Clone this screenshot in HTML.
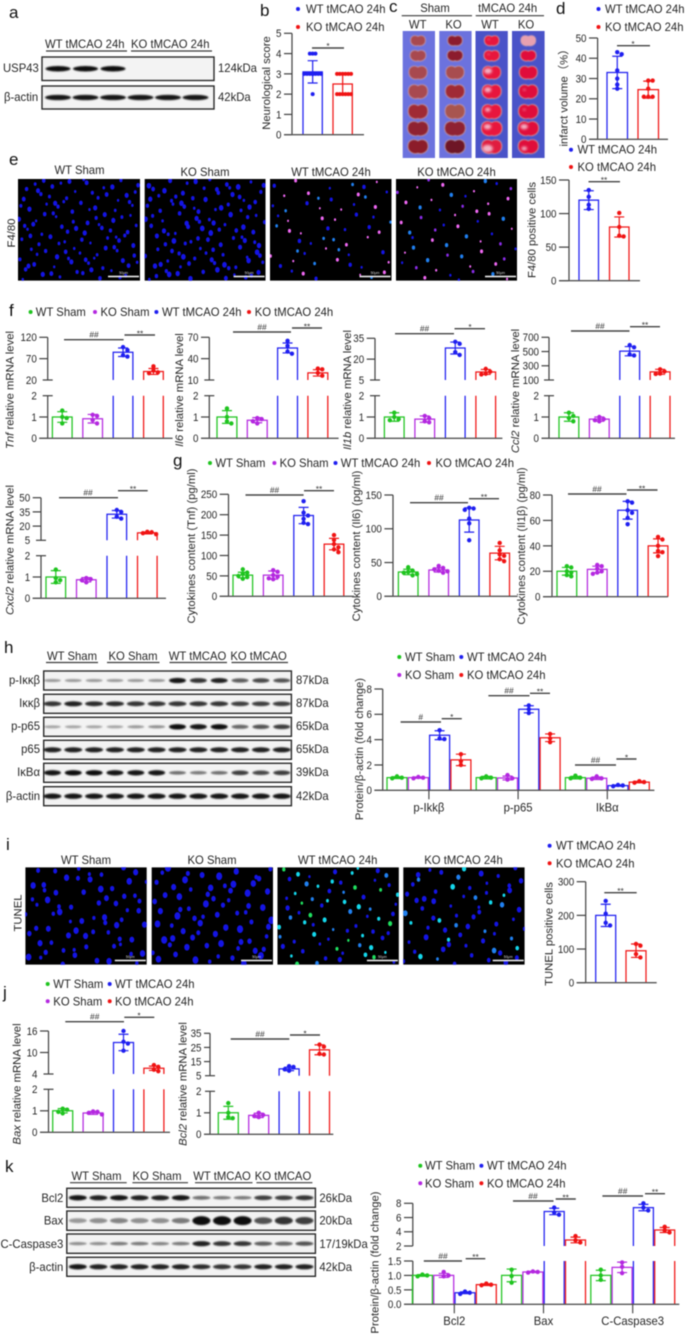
<!DOCTYPE html>
<html lang="en">
<head>
<meta charset="utf-8">
<title>USP43 knockout multi-panel figure</title>
<style>
html,body{margin:0;padding:0;background:#fff;}
#figure{display:block;width:685px;height:1335px;filter:blur(0.42px);}
text{font-family:"Liberation Sans","Noto Sans CJK SC",sans-serif;fill:#262626;font-size:11.3px;}
.c{text-anchor:middle;}
.r{text-anchor:end;}
.p{font-size:17px;fill:#111;}
.s{font-size:8.4px;text-anchor:middle;fill:#333;}
.h{stroke:#444;stroke-width:1.4;}
.k{stroke:#3a3a3a;stroke-width:1.2;}
.i{font-style:italic;}
</style>
</head>
<body>
<svg id="figure" xmlns="http://www.w3.org/2000/svg" width="685" height="1335" viewBox="0 0 685 1335">
<defs>
<filter id="bandBlur" x="-30%" y="-120%" width="160%" height="340%"><feGaussianBlur stdDeviation="0.9"/></filter>
<filter id="softBlur" x="-30%" y="-30%" width="160%" height="160%"><feGaussianBlur stdDeviation="0.6"/></filter>
<filter id="paleBlur" x="-60%" y="-60%" width="220%" height="220%"><feGaussianBlur stdDeviation="1.2"/></filter>
</defs>
<rect x="0" y="0" width="685" height="1335" fill="#ffffff"/>

<!-- panel letters -->
<text class="p" x="9" y="18">a</text>
<text class="p" x="260" y="16">b</text>
<text class="p" x="389" y="12">c</text>
<text class="p" x="556" y="14">d</text>
<text class="p" x="9" y="165">e</text>
<text class="p" x="9" y="316">f</text>
<text class="p" x="173" y="466">g</text>
<text class="p" x="4" y="653">h</text>
<text class="p" x="6" y="850">i</text>
<text class="p" x="3" y="998">j</text>
<text class="p" x="5" y="1172">k</text>

<!-- panel a labels -->
<g>
<text x="45" y="48">WT tMCAO 24h</text>
<line class="k" x1="46" y1="51" x2="127" y2="51"/>
<text x="131" y="48">KO tMCAO 24h</text>
<line class="k" x1="131" y1="51" x2="212" y2="51"/>
<text x="3" y="72">USP43</text>
<text x="4" y="101">β-actin</text>
<text x="218" y="72">124kDa</text>
<text x="218" y="101">42kDa</text>
</g>

<!-- legends top -->
<g>
<circle cx="298" cy="9" r="2" fill="#1f1ff0"/>
<text x="306" y="13">WT tMCAO 24h</text>
<circle cx="298" cy="27" r="2" fill="#f01414"/>
<text x="306" y="31">KO tMCAO 24h</text>
</g>
<text class="c" transform="translate(270,83) rotate(-90)">Neurological score</text>
<g><line class="h" x1="312" y1="48" x2="344" y2="48"/><text class="s" x="328" y="49">*</text></g>

<!-- panel c labels -->
<g>
<text class="c" x="435" y="12">Sham</text>
<text class="c" x="507.7" y="12">tMCAO 24h</text>
<line class="k" x1="401.7" y1="15.7" x2="472" y2="15.7"/>
<line class="k" x1="475.7" y1="15.7" x2="544" y2="15.7"/>
<text class="c" x="417.7" y="28.5">WT</text>
<text class="c" x="453.5" y="28.5">KO</text>
<text class="c" x="490" y="28.5">WT</text>
<text class="c" x="526" y="28.5">KO</text>
</g>

<g>
<circle cx="598.5" cy="9" r="2" fill="#1f1ff0"/>
<text x="605" y="13">WT tMCAO 24h</text>
<circle cx="598.5" cy="27" r="2" fill="#f01414"/>
<text x="605" y="31">KO tMCAO 24h</text>
</g>
<text class="c" transform="translate(567.5,95) rotate(-90)">infarct volume（%）</text>
<g><line class="h" x1="617" y1="45.7" x2="650" y2="45.7"/><text class="s" x="633" y="47">*</text></g>

<!-- panel e labels -->
<g>
<text class="c" x="79.5" y="174">WT Sham</text>
<text class="c" x="205" y="176">KO Sham</text>
<text class="c" x="331" y="176">WT tMCAO 24h</text>
<text class="c" x="456.5" y="176">KO tMCAO 24h</text>
<text class="c" transform="translate(15,233) rotate(-90)">F4/80</text>
</g>
<g>
<circle cx="571" cy="149.7" r="2" fill="#1f1ff0"/>
<text x="577.5" y="153.7">WT tMCAO 24h</text>
<circle cx="571" cy="167" r="2" fill="#f01414"/>
<text x="577.5" y="171">KO tMCAO 24h</text>
</g>
<text class="c" transform="translate(535.7,230) rotate(-90)">F4/80 positive cells</text>
<g><line class="h" x1="588.5" y1="181.7" x2="620" y2="181.7"/><text class="s" x="604" y="183">**</text></g>

<!-- panel f -->
<g>
<circle cx="30.6" cy="312" r="2" fill="#1fc41f"/>
<text x="35.8" y="316">WT Sham</text>
<circle cx="95" cy="312" r="2" fill="#b428e0"/>
<text x="100.5" y="316">KO Sham</text>
<circle cx="156.4" cy="312" r="2" fill="#1f1ff0"/>
<text x="162" y="316">WT tMCAO 24h</text>
<circle cx="249" cy="312" r="2" fill="#f01414"/>
<text x="254.7" y="316">KO tMCAO 24h</text>
</g>
<text class="c" transform="translate(13.3,390) rotate(-90)"><tspan class="i">Tnf</tspan> relative mRNA level</text>
<text class="c" transform="translate(183,390) rotate(-90)"><tspan class="i">Il6</tspan> relative mRNA level</text>
<text class="c" transform="translate(351,390) rotate(-90)"><tspan class="i">Il1b</tspan> relative mRNA level</text>
<text class="c" transform="translate(519,391) rotate(-90)"><tspan class="i">Ccl2</tspan> relative mRNA level</text>
<text class="c" transform="translate(13.6,550) rotate(-90)"><tspan class="i">Cxcl2</tspan> relative mRNA level</text>

<g><line class="h" x1="64" y1="339.7" x2="123.6" y2="339.7"/><text class="s" x="94" y="337.5">##</text><line class="h" x1="124.5" y1="335" x2="155" y2="335"/><text class="s" x="140" y="336.5">**</text></g>
<g><line class="h" x1="233" y1="332" x2="291" y2="332"/><text class="s" x="262" y="330">##</text><line class="h" x1="292" y1="328" x2="322" y2="328"/><text class="s" x="307" y="329.5">**</text></g>
<g><line class="h" x1="395" y1="333.7" x2="454" y2="333.7"/><text class="s" x="424.5" y="331.5">##</text><line class="h" x1="454.5" y1="328.7" x2="485" y2="328.7"/><text class="s" x="470" y="330">*</text></g>
<g><line class="h" x1="571" y1="331" x2="629.5" y2="331"/><text class="s" x="600" y="329">##</text><line class="h" x1="630" y1="326.7" x2="660" y2="326.7"/><text class="s" x="645" y="328">**</text></g>
<g><line class="h" x1="59" y1="497.7" x2="118" y2="497.7"/><text class="s" x="88" y="495.5">##</text><line class="h" x1="118" y1="490.7" x2="147.7" y2="490.7"/><text class="s" x="133" y="492">**</text></g>

<!-- panel g -->
<g>
<circle cx="210" cy="463" r="2" fill="#1fc41f"/>
<text x="215.4" y="467">WT Sham</text>
<circle cx="274.4" cy="463" r="2" fill="#b428e0"/>
<text x="279.6" y="467">KO Sham</text>
<circle cx="335.5" cy="463" r="2" fill="#1f1ff0"/>
<text x="340.8" y="467">WT tMCAO 24h</text>
<circle cx="429" cy="463" r="2" fill="#f01414"/>
<text x="435.5" y="467">KO tMCAO 24h</text>
</g>
<text class="c" transform="translate(195,546) rotate(-90)">Cytokines content (Tnf) (pg/ml)</text>
<text class="c" transform="translate(360,546) rotate(-90)">Cytokines content (Il6) (pg/ml)</text>
<text class="c" transform="translate(524.8,546) rotate(-90)">Cytokines content (Il1β) (pg/ml)</text>
<g><line class="h" x1="245.5" y1="495" x2="303.6" y2="495"/><text class="s" x="274.5" y="493">##</text><line class="h" x1="304" y1="490.7" x2="334" y2="490.7"/><text class="s" x="319" y="492">**</text></g>
<g><line class="h" x1="410" y1="502.7" x2="468" y2="502.7"/><text class="s" x="439" y="500.5">##</text><line class="h" x1="469" y1="498.7" x2="499" y2="498.7"/><text class="s" x="484" y="500">**</text></g>
<g><line class="h" x1="568" y1="494" x2="626.5" y2="494"/><text class="s" x="597" y="492">##</text><line class="h" x1="627" y1="490" x2="657.5" y2="490"/><text class="s" x="642" y="491.5">**</text></g>

<!-- panel h labels -->
<g>
<text class="c" x="72" y="660">WT Sham</text>
<text class="c" x="133" y="660">KO Sham</text>
<text class="c" x="197.5" y="660">WT tMCAO</text>
<text class="c" x="258.6" y="660">KO tMCAO</text>
<line class="k" x1="46" y1="662.5" x2="98" y2="662.5"/>
<line class="k" x1="107" y1="662.5" x2="159.5" y2="662.5"/>
<line class="k" x1="169.5" y1="662.5" x2="227" y2="662.5"/>
<line class="k" x1="231.5" y1="662.5" x2="288" y2="662.5"/>
<text class="r" x="40" y="684">p-Iκκβ</text>
<text class="r" x="40" y="707">Iκκβ</text>
<text class="r" x="40" y="730">p-p65</text>
<text class="r" x="40" y="753">p65</text>
<text class="r" x="40" y="776">IκBα</text>
<text class="r" x="40" y="800">β-actin</text>
<text x="296" y="684">87kDa</text>
<text x="296" y="707">87kDa</text>
<text x="296" y="730">65kDa</text>
<text x="296" y="753">65kDa</text>
<text x="296" y="776">39kDa</text>
<text x="296" y="800">42kDa</text>
</g>
<g>
<circle cx="399.3" cy="657" r="2" fill="#1fc41f"/>
<text x="405" y="661">WT Sham</text>
<circle cx="461.3" cy="657" r="2" fill="#1f1ff0"/>
<text x="467" y="661">WT tMCAO 24h</text>
<circle cx="399.3" cy="675" r="2" fill="#b428e0"/>
<text x="405" y="679">KO Sham</text>
<circle cx="461.3" cy="675" r="2" fill="#f01414"/>
<text x="467" y="679">KO tMCAO 24h</text>
</g>
<text class="c" transform="translate(363,749) rotate(-90)">Protein/β-actin (fold change)</text>
<g>
<line class="h" x1="400.6" y1="722" x2="441" y2="722"/><text class="s" x="420.7" y="720">#</text>
<line class="h" x1="441.7" y1="718.7" x2="461.8" y2="718.7"/><text class="s" x="451.7" y="720">*</text>
<line class="h" x1="488.4" y1="695.7" x2="529.5" y2="695.7"/><text class="s" x="509" y="693.5">##</text>
<line class="h" x1="530" y1="693.3" x2="550" y2="693.3"/><text class="s" x="540" y="694.5">**</text>
<line class="h" x1="575" y1="765" x2="616" y2="765"/><text class="s" x="595.5" y="763">##</text>
<line class="h" x1="616.4" y1="759" x2="636.5" y2="759"/><text class="s" x="626.5" y="760.5">*</text>
</g>

<!-- panel i labels -->
<g>
<text class="c" x="86" y="864">WT Sham</text>
<text class="c" x="212" y="864">KO Sham</text>
<text class="c" x="337.7" y="864">WT tMCAO 24h</text>
<text class="c" x="463.5" y="864">KO tMCAO 24h</text>
<text class="c" transform="translate(21.5,913) rotate(-90)">TUNEL</text>
</g>
<g>
<circle cx="549.6" cy="845.7" r="2" fill="#1f1ff0"/>
<text x="556" y="849.7">WT tMCAO 24h</text>
<circle cx="549.6" cy="863.3" r="2" fill="#f01414"/>
<text x="556" y="867.3">KO tMCAO 24h</text>
</g>
<text class="c" transform="translate(552.3,934) rotate(-90)">TUNEL positive cells</text>
<g><line class="h" x1="604.3" y1="892.7" x2="636.7" y2="892.7"/><text class="s" x="620.5" y="894">**</text></g>

<!-- panel j -->
<g>
<circle cx="47.7" cy="984" r="2" fill="#1fc41f"/>
<text x="53.3" y="988">WT Sham</text>
<circle cx="109.7" cy="984" r="2" fill="#1f1ff0"/>
<text x="115" y="988">WT tMCAO 24h</text>
<circle cx="47.7" cy="1001.3" r="2" fill="#b428e0"/>
<text x="53.3" y="1005.3">KO Sham</text>
<circle cx="109.7" cy="1001.3" r="2" fill="#f01414"/>
<text x="115" y="1005.3">KO tMCAO 24h</text>
</g>
<text class="c" transform="translate(20.7,1084) rotate(-90)"><tspan class="i">Bax</tspan> relative mRNA level</text>
<text class="c" transform="translate(186.3,1084) rotate(-90)"><tspan class="i">Bcl2</tspan> relative mRNA level</text>
<g><line class="h" x1="65.3" y1="1021.7" x2="124" y2="1021.7"/><text class="s" x="94.7" y="1019.5">##</text><line class="h" x1="124.3" y1="1017.3" x2="154.3" y2="1017.3"/><text class="s" x="139" y="1018.5">*</text></g>
<g><line class="h" x1="230.7" y1="1039" x2="289.3" y2="1039"/><text class="s" x="260" y="1037">##</text><line class="h" x1="290" y1="1035" x2="320" y2="1035"/><text class="s" x="305" y="1036.5">*</text></g>

<!-- panel k labels -->
<g>
<text class="c" x="96.5" y="1180">WT Sham</text>
<text class="c" x="157" y="1180">KO Sham</text>
<text class="c" x="222" y="1180">WT tMCAO</text>
<text class="c" x="283" y="1180">KO tMCAO</text>
<line class="k" x1="70" y1="1182.7" x2="126.7" y2="1182.7"/>
<line class="k" x1="132.4" y1="1182.7" x2="188" y2="1182.7"/>
<line class="k" x1="195" y1="1182.7" x2="252.5" y2="1182.7"/>
<line class="k" x1="256.4" y1="1182.7" x2="312.4" y2="1182.7"/>
<text class="r" x="63.3" y="1202">Bcl2</text>
<text class="r" x="63.3" y="1224.5">Bax</text>
<text class="r" x="63.3" y="1248">C-Caspase3</text>
<text class="r" x="63.3" y="1271">β-actin</text>
<text x="319.4" y="1202">26kDa</text>
<text x="319.4" y="1224.5">20kDa</text>
<text x="319.4" y="1248">17/19kDa</text>
<text x="319.4" y="1271">42kDa</text>
</g>
<g>
<circle cx="420.3" cy="1165.7" r="2" fill="#1fc41f"/>
<text x="425" y="1169.7">WT Sham</text>
<circle cx="481.4" cy="1165.7" r="2" fill="#1f1ff0"/>
<text x="487" y="1169.7">WT tMCAO 24h</text>
<circle cx="420.3" cy="1183.3" r="2" fill="#b428e0"/>
<text x="425" y="1187.3">KO Sham</text>
<circle cx="481.4" cy="1183.3" r="2" fill="#f01414"/>
<text x="487" y="1187.3">KO tMCAO 24h</text>
</g>
<text class="c" transform="translate(378.4,1262.5) rotate(-90)">Protein/β-actin (fold change)</text>
<g>
<line class="h" x1="423.8" y1="1261" x2="462" y2="1261"/><text class="s" x="443" y="1259">##</text>
<line class="h" x1="465.7" y1="1258.7" x2="485.3" y2="1258.7"/><text class="s" x="475.5" y="1260">**</text>
<line class="h" x1="513" y1="1201" x2="553.5" y2="1201"/><text class="s" x="533" y="1199">##</text>
<line class="h" x1="555.7" y1="1199" x2="575.8" y2="1199"/><text class="s" x="565.7" y="1200.5">**</text>
<line class="h" x1="602.4" y1="1196" x2="643" y2="1196"/><text class="s" x="622.7" y="1194">##</text>
<line class="h" x1="645" y1="1193.7" x2="665" y2="1193.7"/><text class="s" x="655" y="1195">**</text>
</g>
<g id="marks"></g>
</svg>

<script>
/* ---------- chart data ---------- */
const fourColors = ['#1fc41f', '#b428e0', '#1f1ff0', '#f01414'];
const twoColors = ['#1f1ff0', '#f01414'];

const neuroMeans = [3.1, 2.5];
const neuroSds = [0.55, 0.5];
const neuroPoints = [[4, 4, 4, 3, 3, 3, 3, 3, 3, 3, 3, 3, 3, 2], [3, 3, 3, 3, 3, 3, 2, 2, 2, 2, 2, 2]];
const neuroTicks = ['0', '1', '2', '3', '4', '5'];

const infarctMeans = [33, 24.5];
const infarctSds = [8, 4.2];
const infarctPoints = [[43, 42, 34, 30, 27, 25], [29, 29, 25, 21, 21, 21]];
const infarctTicks = ['0', '10', '20', '30', '40', '50'];

const f480Means = [120, 80];
const f480Sds = [14, 15];
const f480Points = [[135, 125, 113, 107], [101, 80, 67, 66]];
const f480Ticks = ['0', '50', '100', '150'];

const tnfMeans = [1, 0.92, 85, 40];
const tnfSds = [0.25, 0.2, 10, 7];
const tnfPoints = [[1.3, 1.0, 0.95, 0.7], [1.1, 1.05, 0.85, 0.7], [97, 90, 78, 75], [52, 42, 38, 36]];
const tnfUpperTicks = ['20', '70', '120'];
const tnfLowerTicks = ['0', '1', '2'];

const il6Means = [1, 0.85, 55, 20];
const il6Sds = [0.3, 0.12, 7, 4.5];
const il6Points = [[1.4, 1.0, 0.8, 0.7], [0.95, 0.9, 0.8, 0.7], [65, 58, 50, 47], [26, 25, 20, 16]];
const il6UpperTicks = ['10', '40', '70'];
const il6LowerTicks = ['0', '1', '2'];

const il1bMeans = [1, 0.9, 28, 10.8];
const il1bSds = [0.2, 0.15, 4.3, 1.8];
const il1bPoints = [[1.2, 1.0, 0.9, 0.85], [1.05, 0.95, 0.8, 0.75], [32.5, 31, 25, 23], [13, 11, 9.5, 9]];
const il1bUpperTicks = ['5', '20', '35'];
const il1bLowerTicks = ['0', '1', '2'];

const ccl2Means = [1, 0.9, 505, 215];
const ccl2Sds = [0.2, 0.1, 65, 35];
const ccl2Points = [[1.2, 1.05, 0.95, 0.8], [1.0, 0.9, 0.85, 0.8], [590, 560, 460, 445], [250, 220, 190, 185]];
const ccl2UpperTicks = ['100', '300', '500', '700'];
const ccl2LowerTicks = ['0', '1', '2'];

const cxcl2Means = [1, 0.87, 32.5, 12.8];
const cxcl2Sds = [0.3, 0.1, 4, 1];
const cxcl2Points = [[1.35, 0.95, 0.85, 0.75], [0.95, 0.9, 0.85, 0.75], [37, 35, 30, 28], [14, 13.5, 12.5, 11.5]];
const cxcl2UpperTicks = ['5', '20', '35', '50'];
const cxcl2LowerTicks = ['0', '1', '2'];

const cytoTnfMeans = [52, 52, 198, 128];
const cytoTnfSds = [7, 10, 20, 14];
const cytoTnfPoints = [[66, 58, 55, 50, 47, 43], [64, 60, 52, 48, 44, 42], [233, 205, 198, 190, 180, 177], [150, 138, 128, 120, 115, 108]];
const cytoTnfTicks = ['0', '50', '100', '150', '200', '250'];

const cytoIl6Means = [36, 39, 113, 64];
const cytoIl6Sds = [4, 3, 18, 10];
const cytoIl6Points = [[43, 38, 36, 35, 33, 31], [45, 42, 40, 38, 37, 35], [131, 130, 128, 115, 108, 83], [79, 68, 62, 60, 55, 52]];
const cytoIl6Ticks = ['0', '50', '100', '150'];

const cytoIl1bMeans = [20, 21.5, 68, 40];
const cytoIl1bSds = [3, 2.5, 7, 5.5];
const cytoIl1bPoints = [[24, 23, 20, 19, 17, 16], [25, 24, 22, 20, 19, 18], [75, 74, 68, 66, 62, 57], [47, 45, 40, 36, 35, 32]];
const cytoIl1bTicks = ['0', '20', '40', '60', '80'];

const hCategories = ['p-Ikkβ', 'p-p65', 'IkBα'];
const hMeans = [1, 1, 4.35, 2.4, 1, 0.97, 6.4, 4.15, 1, 0.95, 0.37, 0.65];
const hSds = [0.07, 0.05, 0.35, 0.45, 0.1, 0.15, 0.28, 0.3, 0.1, 0.1, 0.05, 0.06];
const hPoints = [[1.1, 1, 0.95], [1.05, 1, 0.95], [4.75, 4.1, 4.05], [2.85, 2.3, 2.0], [1.1, 1, 0.95], [1.2, 0.95, 0.85], [6.7, 6.4, 6.1], [4.45, 4.1, 3.8], [1.15, 1, 0.95], [1.1, 0.95, 0.9], [0.42, 0.38, 0.32], [0.72, 0.65, 0.6]];
const hTicks = ['0', '2', '4', '6', '8'];

const tunelMeans = [200, 95];
const tunelSds = [33, 20];
const tunelPoints = [[243, 205, 178, 170], [115, 110, 85, 75]];
const tunelTicks = ['0', '100', '200', '300'];

const baxMeans = [1, 0.9, 12.8, 5.6];
const baxSds = [0.1, 0.07, 2.3, 0.6];
const baxPoints = [[1.1, 1.05, 0.95, 0.88], [0.97, 0.95, 0.9, 0.83], [16, 13, 12.5, 10.5], [6.5, 6, 5.2, 4.8]];
const baxUpperTicks = ['4', '10', '16'];
const baxLowerTicks = ['0', '1', '2'];

const bcl2Means = [1, 0.88, 9.8, 23.3];
const bcl2Sds = [0.3, 0.1, 1.2, 3.5];
const bcl2Points = [[1.45, 1.0, 0.8, 0.75], [1.0, 0.9, 0.85, 0.8], [11.7, 11.2, 9.5, 8.5], [27, 25.5, 20.5, 20]];
const bcl2UpperTicks = ['5', '15', '25', '35'];
const bcl2LowerTicks = ['0', '1', '2'];

const kCategories = ['Bcl2', 'Bax', 'C-Caspase3'];
const kMeans = [1, 1, 0.4, 0.68, 1, 1.12, 6.85, 2.85, 1, 1.28, 7.4, 4.25];
const kSds = [0.03, 0.07, 0.03, 0.03, 0.22, 0.02, 0.45, 0.4, 0.18, 0.18, 0.45, 0.35];
const kPoints = [[1.03, 1, 0.97], [1.12, 1, 0.97], [0.44, 0.4, 0.36], [0.72, 0.68, 0.66], [1.2, 0.98, 0.75], [1.14, 1.12, 1.1], [7.4, 6.7, 6.4], [3.4, 2.8, 2.5], [1.2, 1, 0.85], [1.45, 1.3, 1.08], [8, 7.4, 7], [4.7, 4.2, 3.9]];
const kUpperTicks = ['2', '4', '6', '8'];
const kLowerTicks = ['0.0', '0.5', '1.0', '1.5'];

/* blot band intensities, one value per lane */
const blotAUsp43 = [0.95, 0.95, 0.95, 0, 0, 0];
const blotAActin = [0.9, 0.9, 0.9, 0.9, 0.9, 0.9];
const blotHPIkkb = [0.2, 0.2, 0.2, 0.2, 0.2, 0.22, 0.9, 0.75, 0.85, 0.55, 0.65, 0.6];
const blotHIkkb = [0.75, 0.85, 0.8, 0.8, 0.75, 0.75, 0.75, 0.75, 0.75, 0.7, 0.7, 0.7];
const blotHPp65 = [0.15, 0.15, 0.15, 0.15, 0.2, 0.25, 0.95, 0.9, 0.95, 0.5, 0.6, 0.7];
const blotHP65 = [0.85, 0.85, 0.85, 0.85, 0.85, 0.85, 0.85, 0.85, 0.85, 0.85, 0.85, 0.85];
const blotHIkba = [0.9, 0.95, 0.95, 0.9, 0.9, 0.9, 0.4, 0.35, 0.4, 0.7, 0.65, 0.7];
const blotHActin = [0.9, 0.9, 0.9, 0.9, 0.9, 0.9, 0.9, 0.9, 0.9, 0.9, 0.9, 0.9];
const blotKBcl2 = [0.9, 0.85, 0.9, 0.85, 0.85, 0.9, 0.45, 0.35, 0.35, 0.7, 0.7, 0.75];
const blotKBax = [0.2, 0.25, 0.3, 0.25, 0.25, 0.35, 1, 1, 1, 0.6, 0.75, 0.7];
const blotKCasp = [0.25, 0.25, 0.35, 0.35, 0.3, 0.35, 0.85, 0.75, 0.75, 0.55, 0.5, 0.6];
const blotKActin = [0.9, 0.85, 0.85, 0.85, 0.85, 0.85, 0.8, 0.75, 0.75, 0.85, 0.85, 0.85];

/* ---------- drawing helpers ---------- */
const SVGNS = 'http://www.w3.org/2000/svg';
const marks = document.getElementById('marks');
function mk(tag, attrs, parent) {
  const el = document.createElementNS(SVGNS, tag);
  for (const key in attrs) el.setAttribute(key, attrs[key]);
  parent.appendChild(el);
  return el;
}
function makeYScale(seg) {
  return v => seg.bottom + (v - seg.min) / (seg.max - seg.min) * (seg.top - seg.bottom);
}

function drawBarChart(c) {
  const g = mk('g', {}, marks);
  
  
  const lowerY = makeYScale(c.lower);
  const upperY = c.upper ? makeYScale(c.upper) : null;
  const y = v => (upperY && v > c.lower.max) ? upperY(v) : lowerY(v);
  const xBar = i => c.first + i * c.step + Math.floor(i / 4) * (c.groupGap || 0);
  const axisColor = '#3f3f3f';

  const segs = c.upper ? [[c.lower, lowerY], [c.upper, upperY]] : [[c.lower, lowerY]];
  segs.forEach(([seg, scale], si) => {
    const vert = mk('line', {x1: c.axisX, x2: c.axisX, y1: seg.bottom, y2: seg.top, stroke: axisColor, 'stroke-width': 1.2}, g);
    
    
    seg.ticks.forEach((label, ti) => {
      const value = Number(label);
      const ty = scale(value);
      const isBreak = c.upper && c.breakOut && ((si === 0 && ti === seg.ticks.length - 1) || (si === 1 && ti === 0));
      const tick = mk('line', {
        x1: isBreak ? c.axisX - 5 : c.tickLeft,
        x2: isBreak ? c.axisX + c.breakOut : c.axisX,
        y1: ty, y2: ty, stroke: axisColor, 'stroke-width': 1.2
      }, g);
      
      
      const text = mk('text', {x: c.tickLeft - 2.5, y: ty + 3.9, class: 'r tick-text', style: 'font-size:9.8px'}, g);
      
      
      text.textContent = label;
    });
  });

  c.means.forEach((mean, i) => {
    const color = c.colors[i % c.colors.length];
    const xl = xBar(i), xr = xl + c.barW;
    const barStyle = {fill: 'none', stroke: color, 'stroke-width': 1.25, 'stroke-linejoin': 'miter'};
    const base = c.lower.bottom;
    if (upperY && mean > c.lower.max) {
      const low = mk('path', Object.assign({d: 'M' + xl + ' ' + base + 'V' + c.lower.top + 'M' + xr + ' ' + base + 'V' + c.lower.top}, barStyle), g);
      
      
      const up = mk('path', Object.assign({d: 'M' + xl + ' ' + c.upper.bottom + 'V' + y(mean) + 'H' + xr + 'V' + c.upper.bottom}, barStyle), g);
      
      
    } else {
      const bar = mk('path', Object.assign({d: 'M' + xl + ' ' + base + 'V' + y(mean) + 'H' + xr + 'V' + base}, barStyle), g);
      
      
    }
    const cx = xl + c.barW / 2;
    const y1 = y(mean - c.sds[i]), y2 = y(mean + c.sds[i]);
    const capW = c.capW || 5;
    const err = mk('path', {d: 'M' + cx + ' ' + y1 + 'V' + y2 + 'M' + (cx - capW) + ' ' + y1 + 'H' + (cx + capW) + 'M' + (cx - capW) + ' ' + y2 + 'H' + (cx + capW), fill: 'none', stroke: color, 'stroke-width': 1.2}, g);
    
    

    const r = c.r || 2.2;
    const d = c.jitter || 4.4;
    const placed = [];
    c.points[i].forEach(v => {
      const py = y(v);
      let dx = 0;
      const limit = c.barW / 2 + 1;
      for (let n = 0; n < 20; n++) {
        const cand = (n % 2 ? 1 : -1) * Math.ceil(n / 2) * d;
        if (Math.abs(cand) > limit) continue;
        const clash = placed.some(p => Math.abs(p[0] - cand) < d * 0.9 && Math.abs(p[1] - py) < r * 1.6);
        if (!clash) { dx = cand; break; }
      }
      placed.push([dx, py]);
      const dot = mk('circle', {cx: cx + dx, cy: py, r: r, fill: color}, g);
      
      
    });
  });

  const xAxis = mk('line', {x1: c.tickLeft, x2: c.xEnd, y1: c.lower.bottom, y2: c.lower.bottom, stroke: '#555', 'stroke-width': 1.3}, g);
  
  

  if (c.categories) {
    c.categories.forEach((label, k) => {
      const gx = xBar(4 * k + 2) - 0.7;
      const gt = mk('line', {x1: gx, x2: gx, y1: c.lower.bottom, y2: c.lower.bottom + 9, stroke: axisColor, 'stroke-width': 1.1}, g);
      
      
      const gl = mk('text', {x: gx, y: c.categoryY, class: 'c'}, g);
      
      
      gl.textContent = label;
    });
  }
}

/* ---------- bar charts ---------- */
drawBarChart({name: 'neuro-score', axisX: 292, tickLeft: 284, xEnd: 364, first: 303, step: 30, barW: 19.3, colors: twoColors, means: neuroMeans, sds: neuroSds, points: neuroPoints, jitter: 2.8, r: 2,
  lower: {min: 0, max: 5, bottom: 134.7, top: 33.3, ticks: neuroTicks}});
drawBarChart({name: 'infarct-volume', axisX: 597.6, tickLeft: 589, xEnd: 668, first: 607, step: 31, barW: 20.5, colors: twoColors, means: infarctMeans, sds: infarctSds, points: infarctPoints,
  lower: {min: 0, max: 50, bottom: 139.3, top: 38, ticks: infarctTicks}});
drawBarChart({name: 'f480-cells', axisX: 569, tickLeft: 559, xEnd: 640, first: 579, step: 30.5, barW: 19.5, colors: twoColors, means: f480Means, sds: f480Sds, points: f480Points,
  lower: {min: 0, max: 150, bottom: 280.7, top: 180, ticks: f480Ticks}});

const fLowerGeom = {min: 0, max: 2, bottom: 438.3, top: 395.7};
drawBarChart({name: 'tnf-mrna', axisX: 47.7, tickLeft: 39.3, xEnd: 172.6, breakOut: 5, first: 52.4, step: 30.4, barW: 19.7, colors: fourColors, means: tnfMeans, sds: tnfSds, points: tnfPoints,
  lower: Object.assign({ticks: tnfLowerTicks}, fLowerGeom),
  upper: {min: 20, max: 120, bottom: 380, top: 337.3, ticks: tnfUpperTicks}});
drawBarChart({name: 'il6-mrna', axisX: 209.3, tickLeft: 201, xEnd: 338.6, breakOut: 5, first: 217, step: 30.3, barW: 19.9, colors: fourColors, means: il6Means, sds: il6Sds, points: il6Points,
  lower: Object.assign({ticks: il6LowerTicks}, fLowerGeom),
  upper: {min: 10, max: 70, bottom: 380, top: 337.3, ticks: il6UpperTicks}});
drawBarChart({name: 'il1b-mrna', axisX: 375, tickLeft: 366.7, xEnd: 502.4, breakOut: 5, first: 384.4, step: 30.5, barW: 19.7, colors: fourColors, means: il1bMeans, sds: il1bSds, points: il1bPoints,
  lower: Object.assign({ticks: il1bLowerTicks}, fLowerGeom),
  upper: {min: 5, max: 35, bottom: 380, top: 338.3, ticks: il1bUpperTicks}});
drawBarChart({name: 'ccl2-mrna', axisX: 549, tickLeft: 541.5, xEnd: 675, breakOut: 5, first: 559, step: 30.4, barW: 19.8, colors: fourColors, means: ccl2Means, sds: ccl2Sds, points: ccl2Points,
  lower: Object.assign({ticks: ccl2LowerTicks}, fLowerGeom),
  upper: {min: 100, max: 700, bottom: 380, top: 337.3, ticks: ccl2UpperTicks}});
drawBarChart({name: 'cxcl2-mrna', axisX: 41, tickLeft: 32.7, xEnd: 166, breakOut: 5, first: 46, step: 30.5, barW: 19.6, colors: fourColors, means: cxcl2Means, sds: cxcl2Sds, points: cxcl2Points,
  lower: {min: 0, max: 2, bottom: 598.3, top: 555.7, ticks: cxcl2LowerTicks},
  upper: {min: 5, max: 50, bottom: 540.3, top: 497.7, ticks: cxcl2UpperTicks}});

drawBarChart({name: 'cytokine-tnf', axisX: 228.5, tickLeft: 219.7, xEnd: 354, first: 233, step: 30.4, barW: 19.6, colors: fourColors, means: cytoTnfMeans, sds: cytoTnfSds, points: cytoTnfPoints,
  lower: {min: 0, max: 250, bottom: 596.3, top: 494.3, ticks: cytoTnfTicks}});
drawBarChart({name: 'cytokine-il6', axisX: 393, tickLeft: 384.4, xEnd: 517.7, first: 398.4, step: 30.5, barW: 19.6, colors: fourColors, means: cytoIl6Means, sds: cytoIl6Sds, points: cytoIl6Points,
  lower: {min: 0, max: 150, bottom: 596.3, top: 495, ticks: cytoIl6Ticks}});
drawBarChart({name: 'cytokine-il1b', axisX: 552, tickLeft: 543, xEnd: 668, first: 557, step: 30.4, barW: 19.7, colors: fourColors, means: cytoIl1bMeans, sds: cytoIl1bSds, points: cytoIl1bPoints,
  lower: {min: 0, max: 80, bottom: 596.7, top: 495, ticks: cytoIl1bTicks}});

drawBarChart({name: 'nfkb-protein', axisX: 382.7, tickLeft: 374.4, xEnd: 654.4, first: 387, step: 21.3, groupGap: 4, barW: 20, colors: fourColors, means: hMeans, sds: hSds, points: hPoints, categories: hCategories, categoryY: 811.5, jitter: 4.8,
  lower: {min: 0, max: 8, bottom: 790.3, top: 689, ticks: hTicks}});

drawBarChart({name: 'tunel-cells', axisX: 585.7, tickLeft: 576.7, xEnd: 656.7, first: 595.7, step: 30.3, barW: 20, colors: twoColors, means: tunelMeans, sds: tunelSds, points: tunelPoints,
  lower: {min: 0, max: 300, bottom: 982.7, top: 881.7, ticks: tunelTicks}});

drawBarChart({name: 'bax-mrna', axisX: 48.5, tickLeft: 40, xEnd: 170, breakOut: 5, first: 52.7, step: 30.4, barW: 20, colors: fourColors, means: baxMeans, sds: baxSds, points: baxPoints,
  lower: {min: 0, max: 2, bottom: 1132.3, top: 1089.3, ticks: baxLowerTicks},
  upper: {min: 4, max: 16, bottom: 1074, top: 1031, ticks: baxUpperTicks}});
drawBarChart({name: 'bcl2-mrna', axisX: 210, tickLeft: 204, xEnd: 333.3, breakOut: 5, first: 218.3, step: 30.4, barW: 20, colors: fourColors, means: bcl2Means, sds: bcl2Sds, points: bcl2Points,
  lower: {min: 0, max: 2, bottom: 1134.3, top: 1091.3, ticks: bcl2LowerTicks},
  upper: {min: 5, max: 35, bottom: 1075.7, top: 1033.3, ticks: bcl2UpperTicks}});

drawBarChart({name: 'apoptosis-protein', axisX: 412.8, tickLeft: 404, xEnd: 679.3, first: 412.4, step: 21.3, groupGap: 4, barW: 20, colors: fourColors, means: kMeans, sds: kSds, points: kPoints, categories: kCategories, categoryY: 1325, jitter: 4.8,
  lower: {min: 0, max: 1.5, bottom: 1304.3, top: 1261, ticks: kLowerTicks},
  upper: {min: 2, max: 8, bottom: 1246, top: 1203.3, ticks: kUpperTicks}});

/* ---------- western blots ---------- */
function drawBlot(name, x, y, w, h, firstLane, laneStep, laneW, values, thick) {
  const g = mk('g', {}, marks);
  
  
  const bg = mk('rect', {x: x, y: y, width: w, height: h, fill: '#f3f3f3', stroke: '#2a2a2a', 'stroke-width': 1.4}, g);
  
  
  values.forEach((v, i) => {
    if (v <= 0) return;
    const band = mk('ellipse', {cx: firstLane + i * laneStep, cy: y + h / 2, rx: laneW / 2, ry: (1.2 + 1.6 * v) * (thick || 1), fill: '#0c0c0c', 'fill-opacity': Math.min(1, 0.2 + v * 0.85), filter: 'url(#bandBlur)'}, g);
    
    
  });
}
drawBlot('blot-a-usp43', 42, 57, 172, 23.5, 58, 27.5, 25, blotAUsp43);
drawBlot('blot-a-actin', 42, 86, 172, 23, 58, 27.5, 26, blotAActin);
drawBlot('blot-h-pikkb', 43.7, 671, 247.7, 19, 52.4, 20.85, 17, blotHPIkkb);
drawBlot('blot-h-ikkb', 43.7, 694.3, 247.7, 19, 52.4, 20.85, 18, blotHIkkb);
drawBlot('blot-h-pp65', 43.7, 717.3, 247.7, 19, 52.4, 20.85, 17, blotHPp65);
drawBlot('blot-h-p65', 43.7, 740.3, 247.7, 19, 52.4, 20.85, 18, blotHP65);
drawBlot('blot-h-ikba', 43.7, 763.3, 247.7, 19, 52.4, 20.85, 17, blotHIkba);
drawBlot('blot-h-actin', 43.7, 786.7, 247.7, 19, 52.4, 20.85, 18, blotHActin);
drawBlot('blot-k-bcl2', 66.8, 1188.3, 248.6, 19, 77.8, 20.6, 18, blotKBcl2);
drawBlot('blot-k-bax', 66.8, 1211, 248.6, 19.3, 77.8, 20.6, 18, blotKBax, 1.6);
drawBlot('blot-k-caspase3', 66.8, 1234, 248.6, 19.3, 77.8, 20.6, 18, blotKCasp);
drawBlot('blot-k-actin', 66.8, 1257.3, 248.6, 19, 77.8, 20.6, 18, blotKActin);

/* ---------- microscopy tiles (picture content, not chart data) ---------- */
function halton(i, b) {
  let f = 1, r = 0;
  while (i > 0) { f /= b; r += f * (i % b); i = Math.floor(i / b); }
  return r;
}
function drawTile(name, x, y, w, h, count, size, offset, palette) {
  const tile = mk('svg', {x: x, y: y, width: w, height: h, viewBox: '0 0 ' + w + ' ' + h}, marks);
  
  
  const bg = mk('rect', {x: 0, y: 0, width: w, height: h, fill: '#000'}, tile);
  
  
  for (let i = 1; i <= count; i++) {
    const k = i + offset;
    const px = halton(k, 2) * w;
    const py = halton(k, 3) * h;
    const s = size * (0.7 + 0.6 * halton(k, 5));
    const color = palette[k % palette.length];
    const cell = mk('ellipse', {cx: px, cy: py, rx: s * 0.8, ry: s, fill: color}, tile);
    
    
  }
  const bar = mk('rect', {x: w - 32, y: h - 5, width: 31, height: 1.6, fill: '#eee'}, tile);
  
  
  const lbl = mk('text', {x: w - 16.5, y: h - 6.5, class: 'c', style: 'font-size:3.5px;fill:#ddd'}, tile);
  
  
  lbl.textContent = '50μm';
}
const BL = '#1414e4', MG = '#f068f4', SK = '#2080f0', PP = '#8a2ce8', CY = '#14d8ec', GN = '#20e060';
drawTile('f480-image-wt-sham', 18, 179, 122, 101.7, 112, 2.1, 3, [BL]);
drawTile('f480-image-ko-sham', 144.6, 179, 121, 101.7, 116, 2.3, 40, [BL]);
drawTile('f480-image-wt-tmcao', 270, 179, 121.5, 101.7, 60, 1.7, 90, [MG, BL, SK, MG, BL]);
drawTile('f480-image-ko-tmcao', 396, 179, 121, 101.7, 55, 1.7, 160, [MG, BL, PP, MG, SK]);
drawTile('tunel-image-wt-sham', 25.3, 867.3, 121.5, 97.4, 70, 2.7, 210, [BL]);
drawTile('tunel-image-ko-sham', 151.6, 867.3, 121.4, 97.4, 72, 3.0, 300, [BL]);
drawTile('tunel-image-wt-tmcao', 277.4, 867.3, 121.5, 97.4, 72, 2.1, 400, [CY, BL, BL, SK, BL, GN, CY]);
drawTile('tunel-image-ko-tmcao', 403.2, 867.3, 121.5, 97.4, 68, 2.4, 500, [BL, BL, CY, BL, BL, SK, BL]);

/* ---------- TTC brain sections (picture content) ---------- */
const brainCenters = [418, 455, 491.7, 528.3];
const brainBoxes = [[402.7, 32.3, '#6c72de'], [439.3, 32.3, '#6c72de'], [475.5, 32.3, '#4a53c8'], [512, 32.6, '#4a53c8']];
const brainRows = [41, 56, 73, 92, 112, 129, 147];
const brainWidths = [15, 16, 18.5, 19.5, 20, 21, 20.5];
const brainHeights = [11, 11.5, 14, 15, 15.5, 15.5, 15];
const brainFills = [['#a84a50', '#a84a50', '#a84a50', '#a84a50', '#a02a36', '#8f2030', '#8c1a2a'], ['#8c1c2e', '#8c1c2e', '#a84e50', '#a02a36', '#a85450', '#8f2030', '#6e1426'], ['#e8163c', '#e8163c', '#e8163c', '#e8163c', '#e8163c', '#e8163c', '#e01c40'], ['#e8a0b0', '#e0103a', '#e0103a', '#e0103a', '#e0103a', '#e0103a', '#e0103a']];
const infarctSize = [[0, 0, 0, 0, 0, 0, 0], [0, 0, 0, 0, 0, 0, 0], [0.06, 0.06, 0.22, 0.18, 0.14, 0.18, 0.26], [0, 0, 0, 0.06, 0.06, 0.18, 0.14]];
brainBoxes.forEach((box, col) => {
  const group = mk('g', {}, marks);
  
  
  const r = mk('rect', {x: box[0], y: 31, width: box[1], height: 127, fill: box[2]}, group);
  
  
  brainRows.forEach((cy, row) => {
    const cx = brainCenters[col];
    const w = brainWidths[row], h = brainHeights[row];
    const d = 'M' + cx + ' ' + (cy - h * 0.42) +
      'C' + (cx + w * 0.2) + ' ' + (cy - h * 0.58) + ' ' + (cx + w * 0.5) + ' ' + (cy - h * 0.5) + ' ' + (cx + w * 0.5) + ' ' + (cy - h * 0.05) +
      'C' + (cx + w * 0.5) + ' ' + (cy + h * 0.35) + ' ' + (cx + w * 0.2) + ' ' + (cy + h * 0.52) + ' ' + cx + ' ' + (cy + h * 0.42) +
      'C' + (cx - w * 0.2) + ' ' + (cy + h * 0.52) + ' ' + (cx - w * 0.5) + ' ' + (cy + h * 0.35) + ' ' + (cx - w * 0.5) + ' ' + (cy - h * 0.05) +
      'C' + (cx - w * 0.5) + ' ' + (cy - h * 0.5) + ' ' + (cx - w * 0.2) + ' ' + (cy - h * 0.58) + ' ' + cx + ' ' + (cy - h * 0.42) + 'Z';
    const sec = mk('path', {d: d, fill: brainFills[col][row], stroke: '#d8a8b0', 'stroke-width': 0.6, filter: 'url(#softBlur)'}, group);
    
    
    const inf = infarctSize[col][row];
    if (inf > 0) {
      const pale = mk('ellipse', {cx: cx - w * 0.2, cy: cy - h * 0.15 + (row > 5 ? h * 0.25 : 0), rx: w * inf, ry: h * inf * 0.95, fill: '#f2b4c6', filter: 'url(#paleBlur)'}, group);
      
      
    }
  });
});

/* ---------- glyph proportions: keep measured widths, taller letterforms ---------- */
document.querySelectorAll('#figure text').forEach(t => {
  if (t.hasAttribute('transform')) return;
  if (t.classList.contains('p') || t.classList.contains('s')) return;
  if (t.closest('svg') !== document.getElementById('figure')) return;
  const width = t.getComputedTextLength();
  t.style.fontSize = t.classList.contains('tick-text') ? '11.3px' : '11.8px';
  t.setAttribute('textLength', width);
  t.setAttribute('lengthAdjust', 'spacingAndGlyphs');
});
</script>
</body>
</html>
